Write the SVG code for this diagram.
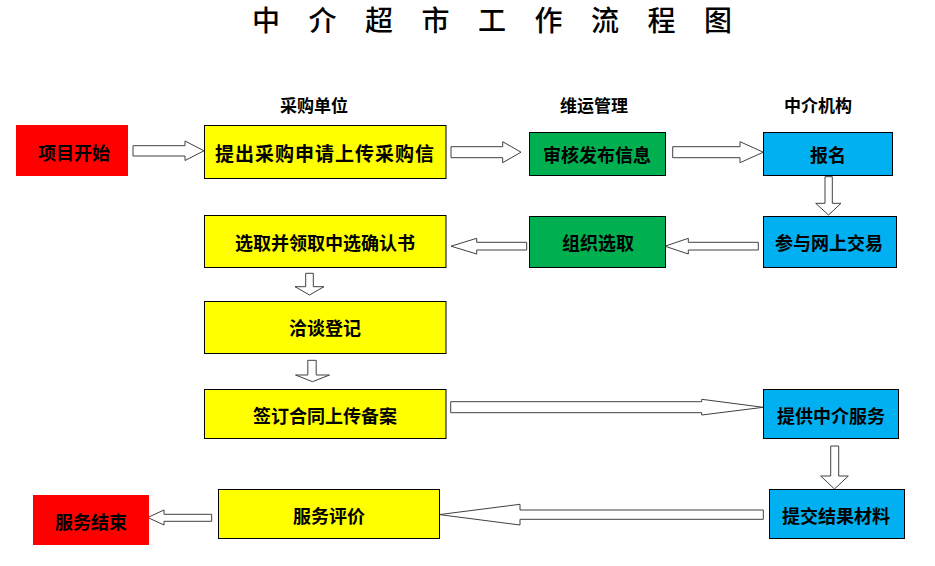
<svg xmlns="http://www.w3.org/2000/svg" width="935" height="566" viewBox="0 0 935 566">
<style>
text{font-family:"Noto Sans CJK SC","Liberation Sans",sans-serif;fill:#000;text-anchor:middle;dominant-baseline:central}
.t{font-size:18px;font-weight:700}
.h{font-size:17px;font-weight:700}
.title{font-size:28px;font-weight:500;text-anchor:start;letter-spacing:28.5px}
.y{fill:#FFFF00;stroke:#000;stroke-width:1}
.g{fill:#00B050;stroke:#000;stroke-width:1}
.b{fill:#00B0F0;stroke:#000;stroke-width:1}
.r{fill:#FF0000}
.a{fill:#fff;stroke:#404040;stroke-width:1;stroke-linejoin:miter}
</style>
<rect width="935" height="566" fill="#fff"/>
<text class="title" x="252" y="19">中介超市工作流程图</text>
<g id="headers">
<text class="h" x="314" y="104">采购单位</text>
<text class="h" x="594" y="104">维运管理</text>
<text class="h" x="818" y="104">中介机构</text>
</g>
<g id="connectors">
<polygon class="a" points="133,145.7 185,145.7 185,141 204,150.8 185,160.5 185,156 133,156"/>
<polygon class="a" points="451,146.7 502.7,146.7 502.7,141.7 521,152.2 502.7,162.7 502.7,157.7 451,157.7"/>
<polygon class="a" points="672.7,146.7 740,146.7 740,141.7 763.3,152.2 740,162.7 740,157.7 672.7,157.7"/>
<polygon class="a" points="825,176.7 832.3,176.7 832.3,203.3 841,203.3 828.5,215 815.7,203.3 825,203.3"/>
<polygon class="a" points="758.3,242.3 688.3,242.3 688.3,238.3 665,246.2 688.3,254 688.3,250 758.3,250"/>
<polygon class="a" points="526.7,242.3 476.7,242.3 476.7,238.3 451,246.2 476.7,254 476.7,250 526.7,250"/>
<polygon class="a" points="305.7,273.3 313.3,273.3 313.3,286.7 324,286.7 309.5,295 295,286.7 305.7,286.7"/>
<polygon class="a" points="307.8,360.3 316.2,360.3 316.2,375 329.5,375 312.5,381.7 295.5,375 307.8,375"/>
<polygon class="a" points="450.7,401.7 701.7,401.7 701.7,399.3 763.3,407.3 701.7,415 701.7,412.7 450.7,412.7"/>
<polygon class="a" points="830.7,446 838.7,446 838.7,476 848.3,476 834.5,489 820.7,476 830.7,476"/>
<polygon class="a" points="763.3,510 520,510 520,504.3 439.3,514.6 520,525 520,519.3 763.3,519.3"/>
<polygon class="a" points="211.7,514.3 164,514.3 164,510 147.7,517.5 164,525 164,521.3 211.7,521.3"/>
</g>
<g id="n-start"><rect class="r" x="16" y="125" width="112" height="51"/><text class="t" x="74" y="151.5">项目开始</text></g>
<g id="n-apply"><rect class="y" x="204.5" y="125.5" width="241.5" height="53"/><text class="t" x="325" y="152" style="font-size:19px;letter-spacing:1px">提出采购申请上传采购信</text></g>
<g id="n-review"><rect class="g" x="529.5" y="132.5" width="136" height="43"/><text class="t" x="597" y="154">审核发布信息</text></g>
<g id="n-signup"><rect class="b" x="763.5" y="132.5" width="129" height="43"/><text class="t" x="828" y="154">报名</text></g>
<g id="n-select"><rect class="y" x="204.5" y="215.5" width="241.5" height="52"/><text class="t" x="325" y="242">选取并领取中选确认书</text></g>
<g id="n-organize"><rect class="g" x="529.5" y="216.5" width="136" height="51"/><text class="t" x="598" y="242">组织选取</text></g>
<g id="n-trade"><rect class="b" x="763.5" y="216.5" width="133" height="51"/><text class="t" x="829" y="242">参与网上交易</text></g>
<g id="n-negotiate"><rect class="y" x="204.5" y="301.5" width="241.5" height="52"/><text class="t" x="325" y="327">洽谈登记</text></g>
<g id="n-contract"><rect class="y" x="204.5" y="389.5" width="241.5" height="49"/><text class="t" x="325" y="415">签订合同上传备案</text></g>
<g id="n-service"><rect class="b" x="763.5" y="389.5" width="135" height="49"/><text class="t" x="831" y="415">提供中介服务</text></g>
<g id="n-submit"><rect class="b" x="769.5" y="489.5" width="135" height="49"/><text class="t" x="836" y="515">提交结果材料</text></g>
<g id="n-evaluate"><rect class="y" x="218.5" y="489.5" width="221" height="49"/><text class="t" x="329" y="515">服务评价</text></g>
<g id="n-end"><rect class="r" x="33" y="495" width="116" height="50"/><text class="t" x="91" y="521">服务结束</text></g>
</svg>
